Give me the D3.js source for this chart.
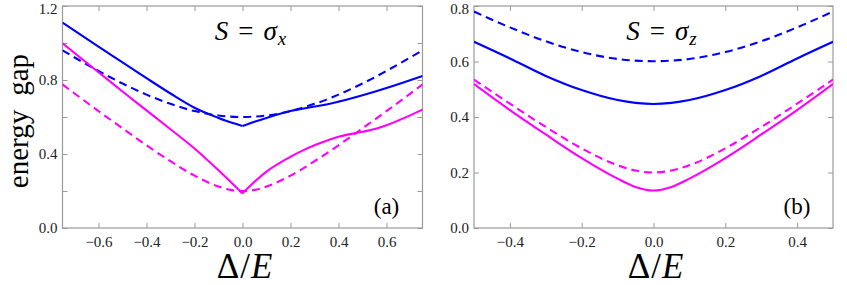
<!DOCTYPE html>
<html>
<head>
<meta charset="utf-8">
<script src="https://cdn.jsdelivr.net/npm/d3@7"></script>
<style>
  body { margin: 0; background: #fff; }
  svg text { font-family: 'Liberation Serif', 'Times New Roman', 'DejaVu Serif', serif; }
</style>
</head>
<body>
<svg id="chart" width="847" height="285"></svg>
<script>
// panel (a), S = sigma_x
const xA          = [-0.75, -0.6, -0.5, -0.4, -0.3, -0.2, -0.1, -0.05, 0, 0.05, 0.1, 0.2, 0.25, 0.3, 0.35, 0.4, 0.5, 0.55, 0.6, 0.75]
const blueSolidA  = [1.11, 0.98, 0.895, 0.81, 0.727, 0.65, 0.595, 0.571, 0.551, 0.574, 0.595, 0.632, 0.645, 0.657, 0.668, 0.683, 0.718, 0.737, 0.757, 0.822]
const blueDashA   = [0.96, 0.849, 0.781, 0.721, 0.671, 0.632, 0.608, 0.602, 0.6, 0.602, 0.608, 0.632, 0.65, 0.671, 0.694, 0.721, 0.781, 0.814, 0.849, 0.96]
const pinkSolidA  = [0.998, 0.842, 0.738, 0.636, 0.534, 0.43, 0.312, 0.25, 0.187, 0.25, 0.305, 0.385, 0.418, 0.447, 0.472, 0.493, 0.52, 0.535, 0.556, 0.64]
const pinkDashA   = [0.776, 0.632, 0.539, 0.447, 0.361, 0.283, 0.224, 0.206, 0.2, 0.206, 0.224, 0.283, 0.32, 0.361, 0.403, 0.447, 0.539, 0.585, 0.632, 0.776]

// panel (b), S = sigma_z
const xB          = [-0.5, -0.4, -0.3, -0.2, -0.1, -0.05, 0, 0.05, 0.1, 0.2, 0.3, 0.4, 0.5]
const blueSolidB  = [0.671, 0.611, 0.548, 0.497, 0.461, 0.451, 0.447, 0.451, 0.461, 0.497, 0.548, 0.611, 0.671]
const blueDashB   = [0.78, 0.723, 0.673, 0.634, 0.609, 0.603, 0.601, 0.603, 0.609, 0.634, 0.673, 0.723, 0.78]
const pinkSolidB  = [0.519, 0.425, 0.337, 0.252, 0.178, 0.148, 0.135, 0.148, 0.178, 0.252, 0.337, 0.425, 0.519]
const pinkDashB   = [0.535, 0.448, 0.364, 0.287, 0.226, 0.207, 0.2, 0.207, 0.226, 0.287, 0.364, 0.448, 0.535]

const xTicksA  = [-0.6, -0.4, -0.2, 0, 0.2, 0.4, 0.6]
const yTicksA  = [0, 0.2, 0.4, 0.6, 0.8, 1.0, 1.2]
const yLabelsA = [0, 0.4, 0.8, 1.2]
const xTicksB  = [-0.4, -0.2, 0, 0.2, 0.4]
const yTicksB  = [0, 0.2, 0.4, 0.6, 0.8]
const yLabelsB = [0, 0.2, 0.4, 0.6, 0.8]

const BLUE = "#0000ff", PINK = "#ff00ff", FRAME = "#9a9a9a"
const SERIF = "'Liberation Serif', 'Times New Roman', serif"

const svg = d3.select("#chart").attr("font-family", SERIF)
const plotTop = 6, plotBottom = 228

const panels = [
  {left: 62.5, right: 422.5, xDomain: [-0.75, 0.75], yDomain: [0, 1.2], x: xA,
   xTicks: xTicksA, yTicks: yTicksA, yLabels: yLabelsA, sub: "x", tag: "(a)", kink: true,
   series: [[blueDashA, BLUE, true], [pinkDashA, PINK, true], [blueSolidA, BLUE, false], [pinkSolidA, PINK, false]]},
  {left: 474, right: 833, xDomain: [-0.5, 0.5], yDomain: [0, 0.8], x: xB,
   xTicks: xTicksB, yTicks: yTicksB, yLabels: yLabelsB, sub: "z", tag: "(b)", kink: false,
   series: [[blueDashB, BLUE, true], [pinkDashB, PINK, true], [blueSolidB, BLUE, false], [pinkSolidB, PINK, false]]}
]

const fmt = d3.format(".1f")

panels.forEach((p, i) => {
  const x = d3.scaleLinear().domain(p.xDomain).range([p.left, p.right])
  const y = d3.scaleLinear().domain(p.yDomain).range([plotBottom, plotTop])
  const g = svg.append("g")

  const clipId = "clip" + i
  svg.append("clipPath").attr("id", clipId)
     .append("rect").attr("x", p.left).attr("y", plotTop)
     .attr("width", p.right - p.left).attr("height", plotBottom - plotTop)

  // axes: ticks point inward on all four sides
  const axes = [
    [d3.axisBottom(x).tickValues(p.xTicks).tickFormat(fmt).tickPadding(8), `translate(0,${plotBottom})`],
    [d3.axisTop(x).tickValues(p.xTicks).tickFormat(""), `translate(0,${plotTop})`],
    [d3.axisLeft(y).tickValues(p.yTicks).tickPadding(5)
        .tickFormat(d => p.yLabels.some(v => Math.abs(v - d) < 1e-9) ? fmt(d) : ""), `translate(${p.left},0)`],
    [d3.axisRight(y).tickValues(p.yTicks).tickFormat(""), `translate(${p.right},0)`]
  ]
  axes.forEach(([ax, tr]) => {
    const a = g.append("g").attr("transform", tr)
      .call(ax.tickSizeInner(-5).tickSizeOuter(0))
      .attr("font-family", SERIF).attr("font-size", 15)
    a.select(".domain").remove()
    a.selectAll(".tick line").attr("stroke", FRAME).attr("stroke-width", 1)
    a.selectAll(".tick text").attr("fill", "#222").attr("font-family", SERIF)
  })
  // top label sits on the frame corner, keep it inside the picture
  g.selectAll(".tick text").filter(d => d === p.yDomain[1]).attr("dy", "0.5em")

  g.append("rect")
   .attr("x", p.left).attr("y", plotTop)
   .attr("width", p.right - p.left).attr("height", plotBottom - plotTop)
   .attr("fill", "none").attr("stroke", FRAME).attr("stroke-width", 1.2)

  const line = d3.line().x(d => x(d[0])).y(d => y(d[1])).curve(d3.curveMonotoneX)
  const lines = g.append("g").attr("clip-path", `url(#${clipId})`)

  p.series.forEach(([vals, color, dashed]) => {
    const pts = p.x.map((xv, k) => [xv, vals[k]])
    // solid curves in (a) have a cusp at 0, so draw each side on its own
    const parts = (p.kink && !dashed) ? [pts.filter(d => d[0] <= 0), pts.filter(d => d[0] >= 0)] : [pts]
    parts.forEach(part => {
      lines.append("path")
        .attr("d", line(part))
        .attr("fill", "none")
        .attr("stroke", color)
        .attr("stroke-width", 2.1)
        .attr("stroke-dasharray", dashed ? "8,5" : null)
    })
  })

  // title S = sigma
  const cx = (p.left + p.right) / 2 + 8
  const t = g.append("text").attr("x", cx).attr("y", 40)
    .attr("text-anchor", "middle").attr("font-family", SERIF).attr("font-size", 27)
  t.append("tspan").attr("font-style", "italic").text("S")
  t.append("tspan").attr("dx", 10).text("=")
  t.append("tspan").attr("dx", 10).attr("font-style", "italic").text("σ")
  t.append("tspan").attr("dy", 5).attr("dx", 1).attr("font-style", "italic").attr("font-size", 19).text(p.sub)

  g.append("text").attr("x", p.right - 36).attr("y", 214)
   .attr("text-anchor", "middle").attr("font-family", SERIF).attr("font-size", 23).text(p.tag)

  // x label
  const xl = g.append("text").attr("x", (p.left + p.right) / 2 + 2).attr("y", 278)
    .attr("text-anchor", "middle").attr("font-family", SERIF).attr("font-size", 35)
  xl.append("tspan").text("Δ")
  xl.append("tspan").attr("dx", 1).text("/")
  xl.append("tspan").attr("dx", 1).attr("font-style", "italic").text("E")
})

const yl = svg.append("text")
  .attr("transform", "translate(28,121) rotate(-90)")
  .attr("text-anchor", "middle").attr("font-family", SERIF).attr("font-size", 29)
yl.append("tspan").text("energy")
yl.append("tspan").attr("dx", 14).text("gap")
</script>
</body>
</html>
